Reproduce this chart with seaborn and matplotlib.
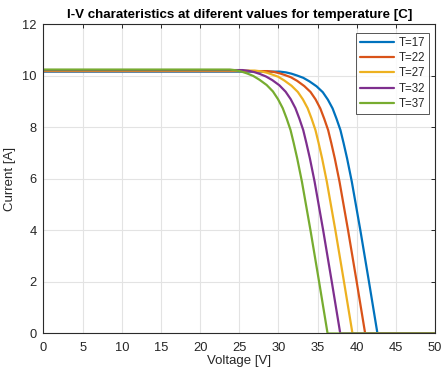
import matplotlib
matplotlib.use("Agg")
import matplotlib.pyplot as plt
import pandas as pd
import seaborn as sns

# I-V curve samples (voltage [V], current [A]) for each cell temperature [C]
temperatures = [17, 22, 27, 32, 37]

v_t17 = [0, 30.17, 30.97, 31.67, 32.37, 33.17, 33.97, 34.87, 35.67, 36.32, 36.92, 37.42,
         37.92, 38.32, 38.77, 39.37, 40.47, 41.57, 42.65, 50]
i_t17 = [10.17, 10.17, 10.14, 10.09, 10.02, 9.93, 9.79, 9.60, 9.37, 9.08, 8.74, 8.34,
         7.90, 7.40, 6.80, 5.90, 4.00, 2.00, 0.0, 0.0]

v_t22 = [0, 28.60, 29.40, 30.10, 30.80, 31.60, 32.40, 33.30, 34.10, 34.75, 35.35, 35.85,
         36.35, 36.75, 37.20, 37.80, 38.90, 40.00, 41.08, 50]
i_t22 = [10.19, 10.19, 10.16, 10.11, 10.04, 9.95, 9.81, 9.61, 9.38, 9.09, 8.74, 8.34,
         7.90, 7.40, 6.80, 5.90, 4.00, 2.00, 0.0, 0.0]

v_t27 = [0, 26.98, 27.78, 28.48, 29.18, 29.98, 30.78, 31.68, 32.48, 33.13, 33.73, 34.23,
         34.73, 35.13, 35.58, 36.18, 37.28, 38.38, 39.46, 50]
i_t27 = [10.21, 10.21, 10.18, 10.13, 10.06, 9.97, 9.82, 9.62, 9.38, 9.09, 8.75, 8.35,
         7.90, 7.40, 6.80, 5.90, 4.00, 2.00, 0.0, 0.0]

v_t32 = [0, 25.42, 26.22, 26.92, 27.62, 28.42, 29.22, 30.12, 30.92, 31.57, 32.17, 32.67,
         33.17, 33.57, 34.02, 34.62, 35.72, 36.82, 37.90, 50]
i_t32 = [10.23, 10.23, 10.20, 10.15, 10.08, 9.98, 9.84, 9.64, 9.39, 9.10, 8.75, 8.35,
         7.90, 7.40, 6.80, 5.90, 4.00, 2.00, 0.0, 0.0]

v_t37 = [0, 23.80, 24.60, 25.30, 26.00, 26.80, 27.60, 28.50, 29.30, 29.95, 30.55, 31.05,
         31.55, 31.95, 32.40, 33.00, 34.10, 35.20, 36.28, 50]
i_t37 = [10.25, 10.25, 10.22, 10.17, 10.10, 10.00, 9.85, 9.65, 9.40, 9.10, 8.75, 8.35,
         7.90, 7.40, 6.80, 5.90, 4.00, 2.00, 0.0, 0.0]

x_ticks = [0, 5, 10, 15, 20, 25, 30, 35, 40, 45, 50]
y_ticks = [0, 2, 4, 6, 8, 10, 12]

series = {
    17: (v_t17, i_t17),
    22: (v_t22, i_t22),
    27: (v_t27, i_t27),
    32: (v_t32, i_t32),
    37: (v_t37, i_t37),
}

frames = []
for t in temperatures:
    v, i = series[t]
    frames.append(pd.DataFrame({"Voltage": v, "Current": i, "label": f"T={t}"}))
df = pd.concat(frames, ignore_index=True)

palette = ["#0072BD", "#D95319", "#EDB120", "#7E2F8E", "#77AC30"]
labels = [f"T={t}" for t in temperatures]

sns.set_style("white")
plt.rcParams["font.family"] = ["Liberation Sans", "DejaVu Sans"]

axis_col = "#262626"
fig = plt.figure(figsize=(4.42, 3.74), dpi=100)
ax = fig.add_axes([0.0984, 0.1083, 0.8858, 0.8262])

sns.lineplot(data=df, x="Voltage", y="Current", hue="label", hue_order=labels,
             palette=palette, estimator=None, sort=False, linewidth=1.6, ax=ax)

ax.set_xlim(0, 50)
ax.set_ylim(0, 12)
ax.set_xticks(x_ticks)
ax.set_yticks(y_ticks)
ax.grid(True, color="#e3e3e3", linewidth=0.8)
ax.set_axisbelow(True)
for s in ax.spines.values():
    s.set_color("#2b2b2b")
    s.set_linewidth(0.8)
ax.tick_params(direction="in", length=3, width=0.7, colors=axis_col,
               labelsize=9.3, top=True, right=True, labelcolor=axis_col, pad=5)
ax.tick_params(axis="x", pad=6)

ax.set_xlabel("Voltage [V]", fontsize=9.5, color=axis_col, labelpad=1)
ax.set_ylabel("Current [A]", fontsize=9.5, color=axis_col, labelpad=4)
ax.set_title("I-V charateristics at diferent values for temperature [C]",
             fontsize=9.6, fontweight="bold", color="black", pad=5)

handles, lbls = ax.get_legend_handles_labels()
leg = ax.legend(handles, lbls, loc="upper right", fontsize=8.3, frameon=True,
                fancybox=False, edgecolor="#2b2b2b", handlelength=2.95,
                handletextpad=0.35, borderpad=0.35, labelspacing=0.28,
                borderaxespad=0, bbox_to_anchor=(0.9847, 0.9725))
leg.get_frame().set_linewidth(0.7)
for ln in leg.get_lines():
    ln.set_linewidth(1.6)

fig.savefig("out.png", dpi=100)
